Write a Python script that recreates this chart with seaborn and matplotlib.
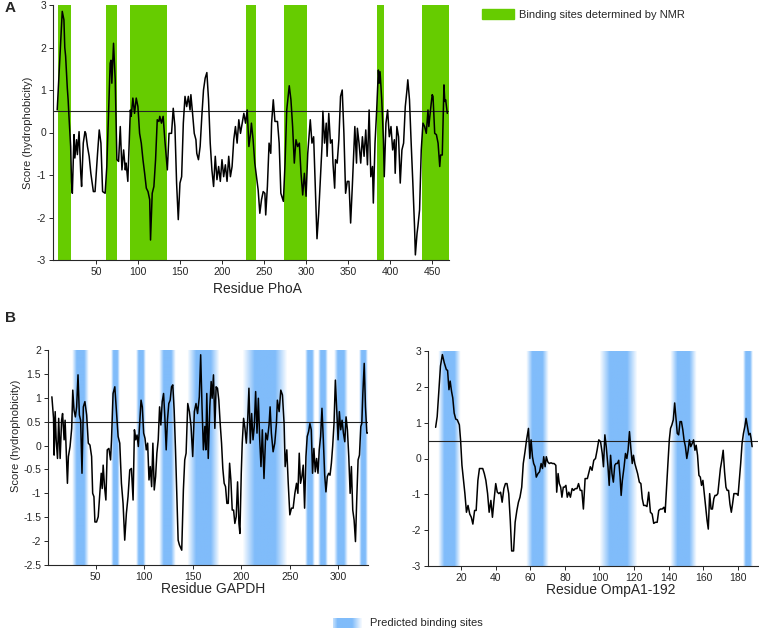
import numpy as np
import matplotlib
matplotlib.use("Agg")
import matplotlib.pyplot as plt
from matplotlib.colors import LinearSegmentedColormap
from matplotlib.patches import Patch
from matplotlib.ticker import FuncFormatter
import seaborn as sns

# -----------------------------
# Data
# -----------------------------
phoa = [(4, 0.53), (10, 2.85), (12, 2.65), (13, 2.0), (14, 1.8), (16, 1.05), (17, 0.77), (18, 0.38),
        (20, -0.33), (21, -1.15), (22, -1.43), (24, -0.05), (25, -0.6), (27, -0.17), (28, -0.52),
        (30, 0.02), (32, -0.96), (33, -1.27), (35, -0.25), (37, 0.02), (38, -0.02), (40, -0.33),
        (42, -0.56), (44, -0.96), (47, -1.39), (49, -1.39), (52, -0.49), (54, 0.06), (56, -0.25),
        (58, -1.39), (61, -1.43), (63, -0.8), (65, 0.38), (67, 1.63), (68, 1.7), (69, 1.16),
        (71, 2.1), (73, 1.24), (75, -0.64), (77, -0.68), (79, 0.14), (81, -0.88), (83, -0.41),
        (85, -0.88), (86, -0.72), (88, -1.15), (90, -0.02), (91, 0.53), (92, 0.38), (94, 0.81),
        (96, 0.45), (98, 0.81), (100, 0.61), (102, -0.02), (104, -0.25), (106, -0.64), (108, -0.96),
        (110, -1.31), (112, -1.39), (114, -1.58), (115, -2.53), (117, -1.43), (119, -1.27),
        (121, -0.64), (123, 0.3), (125, 0.26), (126, 0.38), (128, 0.22), (130, 0.38), (132, -0.17),
        (135, -0.88), (137, -0.02), (140, -0.02), (142, 0.57), (144, 0.14), (146, -1.19),
        (148, -2.05), (150, -1.19), (152, -1.04), (154, 0.22), (156, 0.85), (158, 0.61), (160, 0.85),
        (162, 0.53), (163, 0.89), (165, 0.45), (167, -0.02), (169, -0.17), (170, -0.49), (172, -0.64),
        (174, -0.33), (176, 0.38), (178, 1.0), (180, 1.28), (182, 1.41), (184, 0.77), (186, -0.25),
        (188, -0.88), (190, -1.27), (192, -0.56), (194, -1.11), (196, -0.8), (198, -1.15),
        (200, -0.64), (202, -1.04), (204, -0.76), (206, -1.15), (208, -0.56), (210, -1.04),
        (212, -0.8), (214, -0.17), (216, 0.14), (218, -0.25), (220, 0.3), (222, -0.02), (224, 0.22),
        (226, 0.45), (228, 0.22), (230, 0.53), (232, -0.33), (234, -0.02), (235, 0.22), (237, -0.17),
        (239, -0.72), (241, -1.04), (243, -1.35), (245, -1.9), (247, -1.58), (249, -1.39),
        (251, -1.43), (252, -1.94), (254, -1.27), (256, -0.25), (258, -0.49), (259, 0.22), (261, 0.77),
        (263, 0.26), (266, 0.26), (268, -0.25), (270, -1.43), (273, -1.62), (275, -0.72), (277, 0.53),
        (280, 1.1), (282, 0.77), (284, 0.14), (286, -0.72), (288, -0.17), (290, -0.33), (292, -0.25),
        (294, -0.96), (296, -1.47), (298, -0.96), (300, -1.5), (302, -0.49), (305, 0.3), (307, -0.25),
        (309, -0.1), (311, -1.27), (313, -2.5), (315, -1.9), (317, -1.1), (319, -0.3), (320, 0.5),
        (322, -0.25), (324, 0.22), (325, -0.56), (327, 0.45), (329, -0.25), (331, -0.17), (332, -0.72),
        (334, -1.31), (335, -0.64), (337, -0.72), (339, -0.17), (341, 0.85), (343, 1.0), (345, -0.02),
        (347, -1.43), (349, -1.15), (351, -1.15), (353, -2.13), (355, -1.27), (357, -0.33), (358, 0.14),
        (360, -0.72), (361, 0.1), (363, -0.25), (365, -0.72), (367, -0.1), (369, -0.56), (371, 0.06),
        (373, -0.76), (375, 0.53), (377, -1.04), (379, -0.8), (380, -1.66), (382, -0.25), (384, 0.53),
        (386, 1.47), (387, 1.16), (388, 1.43), (390, 0.77), (392, -0.17), (393, -1.04), (395, 0.22),
        (397, 0.53), (399, -0.1), (401, 0.14), (403, -0.41), (405, -0.17), (406, -0.96), (408, 0.14),
        (410, -0.1), (412, -1.19), (414, -0.41), (416, -0.25), (418, 0.61), (420, 1.0), (421, 1.24),
        (423, 0.77), (425, -0.25), (427, -1.19), (429, -2.21), (430, -2.88), (432, -2.37), (433, -2.21),
        (435, -1.82), (437, -0.41), (439, 0.22), (441, 0.14), (443, -0.02), (445, 0.53), (446, 0.14),
        (448, 0.53), (450, 0.89), (451, 0.85), (453, -0.02), (455, -0.05), (457, -0.25), (459, -0.8),
        (460, -0.53), (462, -0.53), (464, 1.12), (465, 0.73), (466, 0.77), (468, 0.45)]

gapdh = [(5, 1.02), (6.7, 0.57), (7.3, -0.2), (8.4, 0.71), (9.4, 0.12), (10.8, -0.27), (12, 0.57),
         (13.5, -0.27), (15, 0.53), (16, 0.67), (17.6, 0.12), (18.6, 0.53), (19.6, -0.02), (21, -0.79),
         (22, -0.23), (23.7, -0.02), (25.4, 0.36), (26.5, 1.16), (27.8, 0.74), (29.2, 0.6), (30.5, 0.81),
         (31.9, 1.48), (33.3, 0.64), (34.6, 0.53), (36, -0.58), (37.4, 0.81), (39, 0.92), (40.8, 0.64),
         (42.5, 0.05), (44.2, 0.01), (45.9, -0.23), (47, -1.0), (48.3, -1.07), (49.3, -1.6), (51, -1.6),
         (52.7, -1.49), (54.4, -1.0), (55.8, -0.58), (56.8, -0.9), (57.8, -0.41), (59.2, -0.86),
         (60.6, -1.14), (62, -0.09), (63.7, -0.06), (65.4, -0.3), (66.4, 0.12), (68, 1.09), (69.8, 1.23),
         (71.5, 0.71), (73.2, 0.19), (74.9, 0.05), (76.6, -0.79), (78.3, -1.21), (80, -1.98),
         (81.7, -1.42), (83.4, -1.07), (85.2, -0.51), (86.9, -0.48), (88.6, -1.14), (90, 0.33),
         (91.3, 0.12), (92.7, 0.22), (94, -0.02), (95.4, 0.46), (96.8, 0.95), (98.1, 0.81), (99.5, 0.26),
         (100.9, 0.15), (102.2, -0.09), (103.6, 0.05), (105, -0.72), (106.3, -0.44), (107.7, -0.86),
         (109, 0.05), (110.4, -0.93), (111.8, -0.65), (113.1, -0.16), (114.5, 0.12), (115.9, 0.81),
         (117.2, 0.43), (118.6, 0.92), (120, 1.09), (121.3, 0.6), (122.7, -0.09), (124, 0.53),
         (125.4, 0.88), (126.8, 0.95), (128.2, 1.23), (129.5, 1.27), (130.9, 0.74), (132.3, -0.09),
         (133.6, -1.0), (135, -1.98), (136.3, -2.08), (138.7, -2.19), (140.4, -0.93), (141.8, -0.3),
         (143.2, -0.16), (144.9, 0.88), (146.6, 0.71), (148.3, 0.4), (150, -0.23), (151.7, 0.71),
         (153.4, 0.88), (155, 0.67), (156.8, 1.02), (158.2, 1.9), (159.6, 0.81), (161, -0.09),
         (162.5, 0.4), (163.5, -0.09), (164.5, 1.09), (166, -0.27), (167.6, 0.81), (169, 1.34),
         (170, 0.99), (171.4, 1.48), (172.8, 0.36), (174.1, 1.23), (175.5, 1.2), (176.9, 0.95),
         (178.3, 0.46), (179.7, 0.05), (181, -0.48), (182.4, -0.79), (183.8, -0.86), (185.2, -1.21),
         (186.6, -1.21), (188, -0.37), (189.3, -0.72), (190.7, -1.35), (192.1, -1.35), (193.4, -1.63),
         (194.8, -1.49), (196.2, -0.76), (197.6, -1.63), (198.6, -1.84), (200, -0.58), (201, 0.05),
         (202.4, 0.57), (203.8, 0.36), (205.2, 0.05), (206.6, 0.53), (207.9, 1.2), (209.3, 0.05),
         (210.7, 0.67), (212.1, 0.12), (213.4, 0.4), (214.8, 1.13), (216.2, 0.26), (217.6, 0.99),
         (219, 0.12), (220.3, -0.44), (221.7, 0.33), (223.4, -0.69), (225.2, 0.26), (226.9, 0.12),
         (228.6, 0.43), (229.7, 0.81), (231, 0.26), (232.8, -0.13), (234.5, 0.05), (236.2, 0.46),
         (237.2, 0.95), (239, 0.71), (240.7, 1.16), (242.4, 1.06), (244.1, 0.46), (245.2, -0.44),
         (246.9, -0.09), (248.3, -0.76), (250, -1.45), (251.7, -1.31), (253.4, -1.31), (255.2, -1.0),
         (256.9, -0.79), (258.3, -1.0), (259.7, -0.16), (261, -0.79), (262.4, -0.65), (263.8, -0.41),
         (265.2, -1.31), (266.6, -0.23), (267.9, 0.19), (269.3, 0.29), (270.7, 0.46), (272.1, 0.33),
         (273.4, -0.58), (274.8, -0.06), (276.2, -0.55), (277.6, -0.27), (279, -0.58), (280.3, -0.09),
         (281.7, 0.19), (283.1, 0.78), (284.5, 0.12), (285.9, -0.62), (287.2, -0.97), (288.6, -0.65),
         (290, -0.58), (291.4, -0.62), (292.8, -0.37), (294.1, -0.02), (295.5, 0.46), (296.9, 1.37),
         (298.3, 0.74), (299.7, 0.12), (301, 0.71), (302.4, 0.33), (303.8, 0.53), (305.2, 0.26),
         (306.6, 0.08), (307.9, 0.6), (309.3, 0.33), (310.7, -0.23), (312.1, -1.0), (313.4, -0.44),
         (314.8, -1.35), (316.2, -1.56), (317.6, -2.01), (319, -1.07), (320.3, -0.3), (321.7, -0.2),
         (323.1, 0.4), (324.1, 0.46), (325.2, 1.09), (326.6, 1.72), (327.9, 0.81), (329.3, 0.26),
         (330, 0.26)]

ompa = [(5.4, 0.87), (6.3, 1.17), (7.2, 1.83), (8.2, 2.58), (9.3, 2.9), (10.4, 2.67), (11.6, 2.48),
        (12.3, 2.46), (13.1, 1.92), (13.8, 2.16), (14.6, 1.87), (15.3, 1.69), (16.1, 1.27), (17, 1.1),
        (17.9, 1.08), (19.1, 0.94), (19.8, 0.52), (20.6, -0.19), (21.3, -0.52), (22.3, -0.98),
        (23.2, -1.5), (24.1, -1.31), (25.1, -1.55), (26, -1.64), (26.9, -1.83), (27.9, -1.45),
        (28.8, -1.45), (29.8, -0.61), (30.7, -0.28), (31.6, -0.28), (32.6, -0.28), (33.5, -0.42),
        (34.4, -0.61), (35.4, -0.98), (36.3, -1.5), (37.3, -1.17), (38.2, -1.64), (39.1, -1.17),
        (40.1, -0.7), (41, -0.94), (41.9, -0.98), (42.9, -0.94), (43.8, -1.22), (44.8, -0.84),
        (45.7, -0.7), (46.6, -0.7), (47.6, -0.98), (48.5, -1.73), (49.3, -2.58), (50.4, -2.58),
        (51.3, -1.78), (52.3, -1.45), (53.2, -1.22), (54.1, -1.08), (55.1, -0.8), (56, -0.14),
        (57, 0.19), (57.9, 0.52), (59, 0.84), (59.8, 0.0), (60.5, 0.52), (61.3, 0.05), (62, -0.14),
        (62.8, -0.23), (63.5, -0.52), (64.5, -0.42), (65.4, -0.37), (66.3, -0.14), (67.1, -0.28),
        (67.8, 0.05), (68.6, -0.23), (69.3, 0.05), (70.1, -0.09), (71, -0.14), (72, -0.12),
        (72.9, -0.14), (73.8, -0.14), (74.8, -0.19), (75.3, -0.94), (76.1, -0.42), (76.8, -0.7),
        (77.6, -0.8), (78.3, -1.08), (79.1, -0.8), (79.8, -0.8), (80.6, -0.75), (81.4, -1.08),
        (82.3, -0.94), (83.2, -1.08), (84.2, -0.84), (85.1, -0.89), (86, -0.84), (87, -0.84),
        (87.9, -0.7), (88.9, -0.89), (89.8, -0.89), (90.7, -1.41), (91.7, -0.56), (93, -0.56),
        (94.7, -0.23), (95.7, -0.33), (96.7, -0.05), (97.7, 0.0), (98.6, 0.23), (99.6, 0.52),
        (100.6, 0.47), (101.6, 0.14), (102.3, -0.23), (103.1, 0.66), (103.9, 0.33), (104.9, -0.23),
        (105.6, -0.75), (106.4, 0.09), (107.2, -0.42), (108, -0.66), (108.8, -0.19), (109.5, -0.14),
        (110.3, -0.14), (111.1, -0.05), (111.9, -0.52), (112.5, -1.03), (113.2, -0.61), (114.2, -0.23),
        (115, 0.14), (115.8, 0.0), (116.5, 0.23), (117.3, 0.75), (118.1, 0.28), (118.9, -0.14),
        (119.6, 0.09), (120.4, -0.14), (121.2, -0.28), (122, -0.42), (123, -0.66), (123.9, -0.7),
        (124.7, -1.12), (125.5, -1.31), (126.5, -1.31), (127.4, -1.34), (128.4, -0.94), (129.4, -1.5),
        (130.4, -1.55), (131.3, -1.81), (132.3, -1.78), (133.3, -1.78), (134.2, -1.45), (135.2, -1.41),
        (136.2, -1.41), (137.2, -1.36), (137.9, -1.5), (138.7, -0.8), (139.5, -0.14), (140.3, 0.52),
        (141, 0.84), (141.8, 0.94), (142.6, 1.08), (143.4, 1.55), (144.2, 1.08), (144.9, 0.7),
        (145.7, 0.66), (146.5, 1.03), (147.3, 1.03), (148.1, 0.8), (148.8, 0.52), (149.6, 0.33),
        (150.4, 0.0), (151.2, 0.23), (151.9, 0.52), (152.7, 0.33), (153.5, 0.42), (154.3, 0.52),
        (155.1, 0.23), (155.8, 0.37), (156.6, 0.09), (157.4, -0.47), (158.2, -0.52), (158.9, -0.75),
        (159.7, -0.61), (160.5, -0.98), (161.3, -1.36), (162.1, -1.73), (162.8, -1.97), (163.6, -0.98),
        (164.4, -1.41), (165.2, -1.41), (166, -1.12), (166.7, -1.03), (167.5, -1.03), (168.3, -0.98),
        (169.1, -0.61), (169.8, -0.28), (170.6, -0.05), (171.4, 0.23), (172.2, -0.37), (173, -0.8),
        (173.7, -0.89), (174.5, -0.89), (175.3, -1.27), (176.1, -1.5), (176.8, -1.27), (177.6, -0.98),
        (178.4, -0.98), (179.2, -0.98), (180, -1.03), (180.7, -0.61), (181.5, -0.14), (182.3, 0.42),
        (183.1, 0.7), (183.9, 0.89), (184.6, 1.12), (185.4, 0.89), (186.2, 0.66), (187, 0.7),
        (187.5, 0.56), (188.1, 0.33)]

# binding site ranges (residue start, residue end)
nmr_sites = [(5, 20), (62, 75), (90, 135), (229, 241), (274, 301), (384, 393), (438, 470)]
gapdh_sites = [(26, 42.5), (65.4, 74.2), (91.6, 101.5), (115, 132), (144, 177), (201, 247.6),
               (265.9, 275.2), (279, 288.3), (295.9, 310.3), (321.7, 330.3)]
ompa_sites = [(6.7, 19.8), (57.3, 70.5), (99.6, 122), (140.5, 156), (182.9, 188.1)]

threshold = 0.5

# -----------------------------
# Style
# -----------------------------
sns.set_style("ticks")
plt.rcParams["font.family"] = ["Liberation Sans", "DejaVu Sans"]
plt.rcParams["axes.unicode_minus"] = False

green = "#66cc00"
blue_cmap = LinearSegmentedColormap.from_list("band", ["#ffffff", "#80bcfa"])
fade = np.concatenate([np.linspace(0, 1, 10), np.ones(14), np.linspace(1, 0, 10)])[None, :]
key_fade = np.concatenate([np.linspace(0.5, 1, 4), np.ones(10), np.linspace(1, 0.1, 8)])[None, :]

W, H = 759, 630
fig = plt.figure(figsize=(W / 100, H / 100), dpi=100)


def box(x0, y0, x1, y1):
    # pixel box -> figure fraction
    return [x0 / W, 1 - y1 / H, (x1 - x0) / W, (y1 - y0) / H]


def style_axes(ax):
    sns.despine(ax=ax)
    for s in ["left", "bottom"]:
        ax.spines[s].set_linewidth(0.8)
    ax.tick_params(labelsize=7.5, length=3, width=0.7, pad=2)
    ax.yaxis.set_major_formatter(FuncFormatter(lambda v, p: "%g" % v))


def draw_profile(ax, data, sites, ylim, xlim, gradient):
    res, score = zip(*data)
    for s, e in sites:
        if gradient:
            ax.imshow(fade, cmap=blue_cmap, vmin=0, vmax=1, extent=(s, e, ylim[0], ylim[1]),
                      aspect="auto", interpolation="bilinear", zorder=0)
        else:
            ax.axvspan(s, e, color=green, lw=0, zorder=0)
    ax.axhline(threshold, color="#222222", lw=0.8, zorder=1)
    sns.lineplot(x=list(res), y=list(score), ax=ax, color="black", linewidth=1.1, zorder=2)
    ax.set_xlim(*xlim)
    ax.set_ylim(*ylim)
    style_axes(ax)


# -----------------------------
# Panel A: PhoA
# -----------------------------
axA = fig.add_axes(box(53, 5, 449, 260))
draw_profile(axA, phoa, nmr_sites, (-3, 3), (-1, 470), gradient=False)
axA.set_xticks(range(50, 451, 50))
axA.set_yticks(range(-3, 4))
axA.set_xlabel("Residue PhoA", fontsize=10)
axA.set_ylabel("Score (hydrophobicity)", fontsize=8)
axA.xaxis.set_label_coords(0.515, -0.085)
axA.yaxis.set_label_coords(-0.05, 0.5)
axA.legend(handles=[Patch(color=green, label="Binding sites determined by NMR")],
           loc="upper left", bbox_to_anchor=(482 / W, 1 - 9 / H), bbox_transform=fig.transFigure,
           frameon=False, fontsize=8, handlelength=2.9, handleheight=1.0, handletextpad=0.45,
           borderpad=0, borderaxespad=0)

# -----------------------------
# Panel B: GAPDH and OmpA
# -----------------------------
axB1 = fig.add_axes(box(48, 350, 368, 565))
draw_profile(axB1, gapdh, gapdh_sites, (-2.5, 2), (1, 330.5), gradient=True)
axB1.set_xticks(range(50, 301, 50))
axB1.set_yticks(np.arange(-2.5, 2.01, 0.5))
axB1.set_xlabel("Residue GAPDH", fontsize=10)
axB1.set_ylabel("Score (hydrophobicity)", fontsize=8)
axB1.xaxis.set_label_coords(0.516, -0.08)
axB1.yaxis.set_label_coords(-0.085, 0.6)

axB2 = fig.add_axes(box(428, 351, 758, 566))
draw_profile(axB2, ompa, ompa_sites, (-3, 3), (1, 191.5), gradient=True)
axB2.set_xticks(range(20, 181, 20))
axB2.set_yticks(range(-3, 4))
axB2.set_xlabel("Residue OmpA1-192", fontsize=10)
axB2.xaxis.set_label_coords(0.555, -0.08)

# legend for predicted sites
axL = fig.add_axes(box(333, 618, 362, 628))
axL.imshow(key_fade, cmap=blue_cmap, vmin=0, vmax=1, aspect="auto", interpolation="bilinear")
axL.axis("off")
fig.text(370 / W, 1 - 623 / H, "Predicted binding sites", fontsize=8, va="center", ha="left")

# panel letters
fig.text(5 / W, 1 - 8 / H, "A", fontsize=11, fontweight="bold", va="center", ha="left")
fig.text(5 / W, 1 - 318 / H, "B", fontsize=11, fontweight="bold", va="center", ha="left")

fig.savefig("out.png", dpi=100)
